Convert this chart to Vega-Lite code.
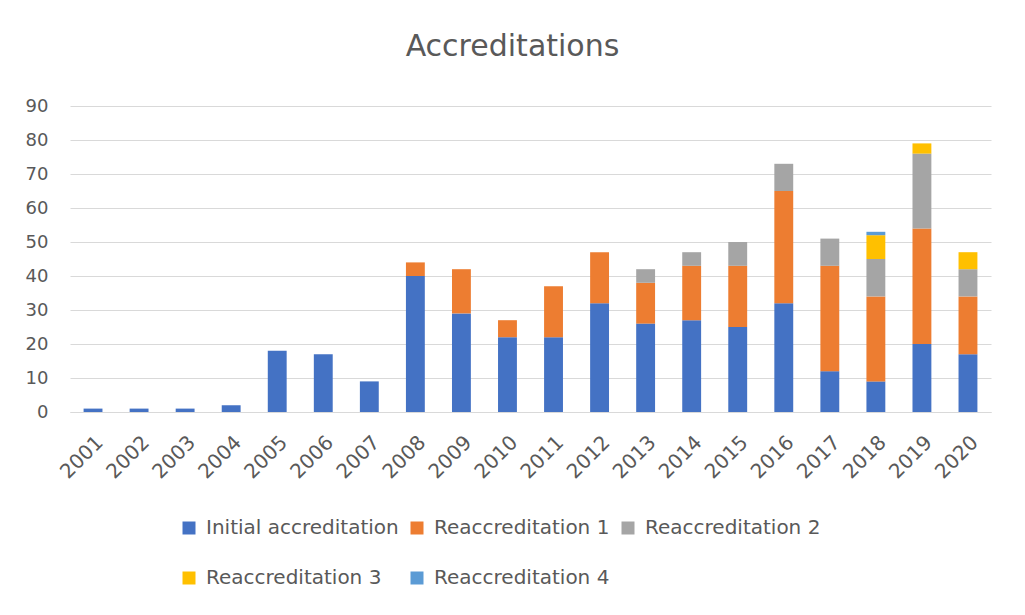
{
  "$schema": "https://vega.github.io/schema/vega-lite/v6.json",
  "width": 921,
  "height": 306,
  "autosize": {"type": "none"},
  "padding": {"left": 70, "top": 106, "right": 34, "bottom": 203},
  "background": "white",
  "title": {"text": "Accreditations", "fontSize": 30, "fontWeight": "normal", "color": "#595959", "anchor": "middle", "dx": -18, "offset": 35, "font": "DejaVu Sans"},
  "data": {"values": [
    {"year": "2001", "type": "Initial accreditation", "count": 1},
    {"year": "2002", "type": "Initial accreditation", "count": 1},
    {"year": "2003", "type": "Initial accreditation", "count": 1},
    {"year": "2004", "type": "Initial accreditation", "count": 2},
    {"year": "2005", "type": "Initial accreditation", "count": 18},
    {"year": "2006", "type": "Initial accreditation", "count": 17},
    {"year": "2007", "type": "Initial accreditation", "count": 9},
    {"year": "2008", "type": "Initial accreditation", "count": 40},
    {"year": "2008", "type": "Reaccreditation 1", "count": 4},
    {"year": "2009", "type": "Initial accreditation", "count": 29},
    {"year": "2009", "type": "Reaccreditation 1", "count": 13},
    {"year": "2010", "type": "Initial accreditation", "count": 22},
    {"year": "2010", "type": "Reaccreditation 1", "count": 5},
    {"year": "2011", "type": "Initial accreditation", "count": 22},
    {"year": "2011", "type": "Reaccreditation 1", "count": 15},
    {"year": "2012", "type": "Initial accreditation", "count": 32},
    {"year": "2012", "type": "Reaccreditation 1", "count": 15},
    {"year": "2013", "type": "Initial accreditation", "count": 26},
    {"year": "2013", "type": "Reaccreditation 1", "count": 12},
    {"year": "2013", "type": "Reaccreditation 2", "count": 4},
    {"year": "2014", "type": "Initial accreditation", "count": 27},
    {"year": "2014", "type": "Reaccreditation 1", "count": 16},
    {"year": "2014", "type": "Reaccreditation 2", "count": 4},
    {"year": "2015", "type": "Initial accreditation", "count": 25},
    {"year": "2015", "type": "Reaccreditation 1", "count": 18},
    {"year": "2015", "type": "Reaccreditation 2", "count": 7},
    {"year": "2016", "type": "Initial accreditation", "count": 32},
    {"year": "2016", "type": "Reaccreditation 1", "count": 33},
    {"year": "2016", "type": "Reaccreditation 2", "count": 8},
    {"year": "2017", "type": "Initial accreditation", "count": 12},
    {"year": "2017", "type": "Reaccreditation 1", "count": 31},
    {"year": "2017", "type": "Reaccreditation 2", "count": 8},
    {"year": "2018", "type": "Initial accreditation", "count": 9},
    {"year": "2018", "type": "Reaccreditation 1", "count": 25},
    {"year": "2018", "type": "Reaccreditation 2", "count": 11},
    {"year": "2018", "type": "Reaccreditation 3", "count": 7},
    {"year": "2018", "type": "Reaccreditation 4", "count": 1},
    {"year": "2019", "type": "Initial accreditation", "count": 20},
    {"year": "2019", "type": "Reaccreditation 1", "count": 34},
    {"year": "2019", "type": "Reaccreditation 2", "count": 22},
    {"year": "2019", "type": "Reaccreditation 3", "count": 3},
    {"year": "2020", "type": "Initial accreditation", "count": 17},
    {"year": "2020", "type": "Reaccreditation 1", "count": 17},
    {"year": "2020", "type": "Reaccreditation 2", "count": 8},
    {"year": "2020", "type": "Reaccreditation 3", "count": 5}
  ]},
  "mark": {"type": "bar"},
  "encoding": {
    "x": {
      "field": "year", "type": "ordinal", "title": null,
      "scale": {"paddingInner": 0.59, "paddingOuter": 0.295},
      "axis": {"labelAngle": -45, "labelFontSize": 20, "labelColor": "#595959", "ticks": false, "domainColor": "#D9D9D9", "domainWidth": 1, "labelPadding": 20, "labelFont": "DejaVu Sans"}
    },
    "y": {
      "field": "count", "type": "quantitative", "aggregate": "sum", "title": null, "stack": "zero",
      "scale": {"domain": [0, 90], "nice": false},
      "axis": {"values": [0, 10, 20, 30, 40, 50, 60, 70, 80, 90], "domain": false, "ticks": false, "gridColor": "#D9D9D9", "gridWidth": 1, "labelFontSize": 18, "labelColor": "#595959", "labelPadding": 22, "labelFont": "DejaVu Sans"}
    },
    "color": {
      "field": "type", "type": "nominal", "title": null,
      "scale": {
        "domain": ["Initial accreditation", "Reaccreditation 1", "Reaccreditation 2", "Reaccreditation 3", "Reaccreditation 4"],
        "range": ["#4472C4", "#ED7D31", "#A5A5A5", "#FFC000", "#5B9BD5"]
      },
      "legend": {
        "orient": "none", "legendX": 109, "legendY": 412, "direction": "horizontal", "columns": 3,
        "symbolType": "square", "symbolSize": 169, "symbolStrokeWidth": 0,
        "labelFontSize": 20, "labelColor": "#595959", "labelFont": "DejaVu Sans", "labelOffset": 7,
        "columnPadding": 8, "rowPadding": 30, "labelLimit": 300
      }
    },
    "order": {"field": "type", "sort": "ascending"}
  },
  "config": {"view": {"stroke": null}, "font": "DejaVu Sans"}
}
